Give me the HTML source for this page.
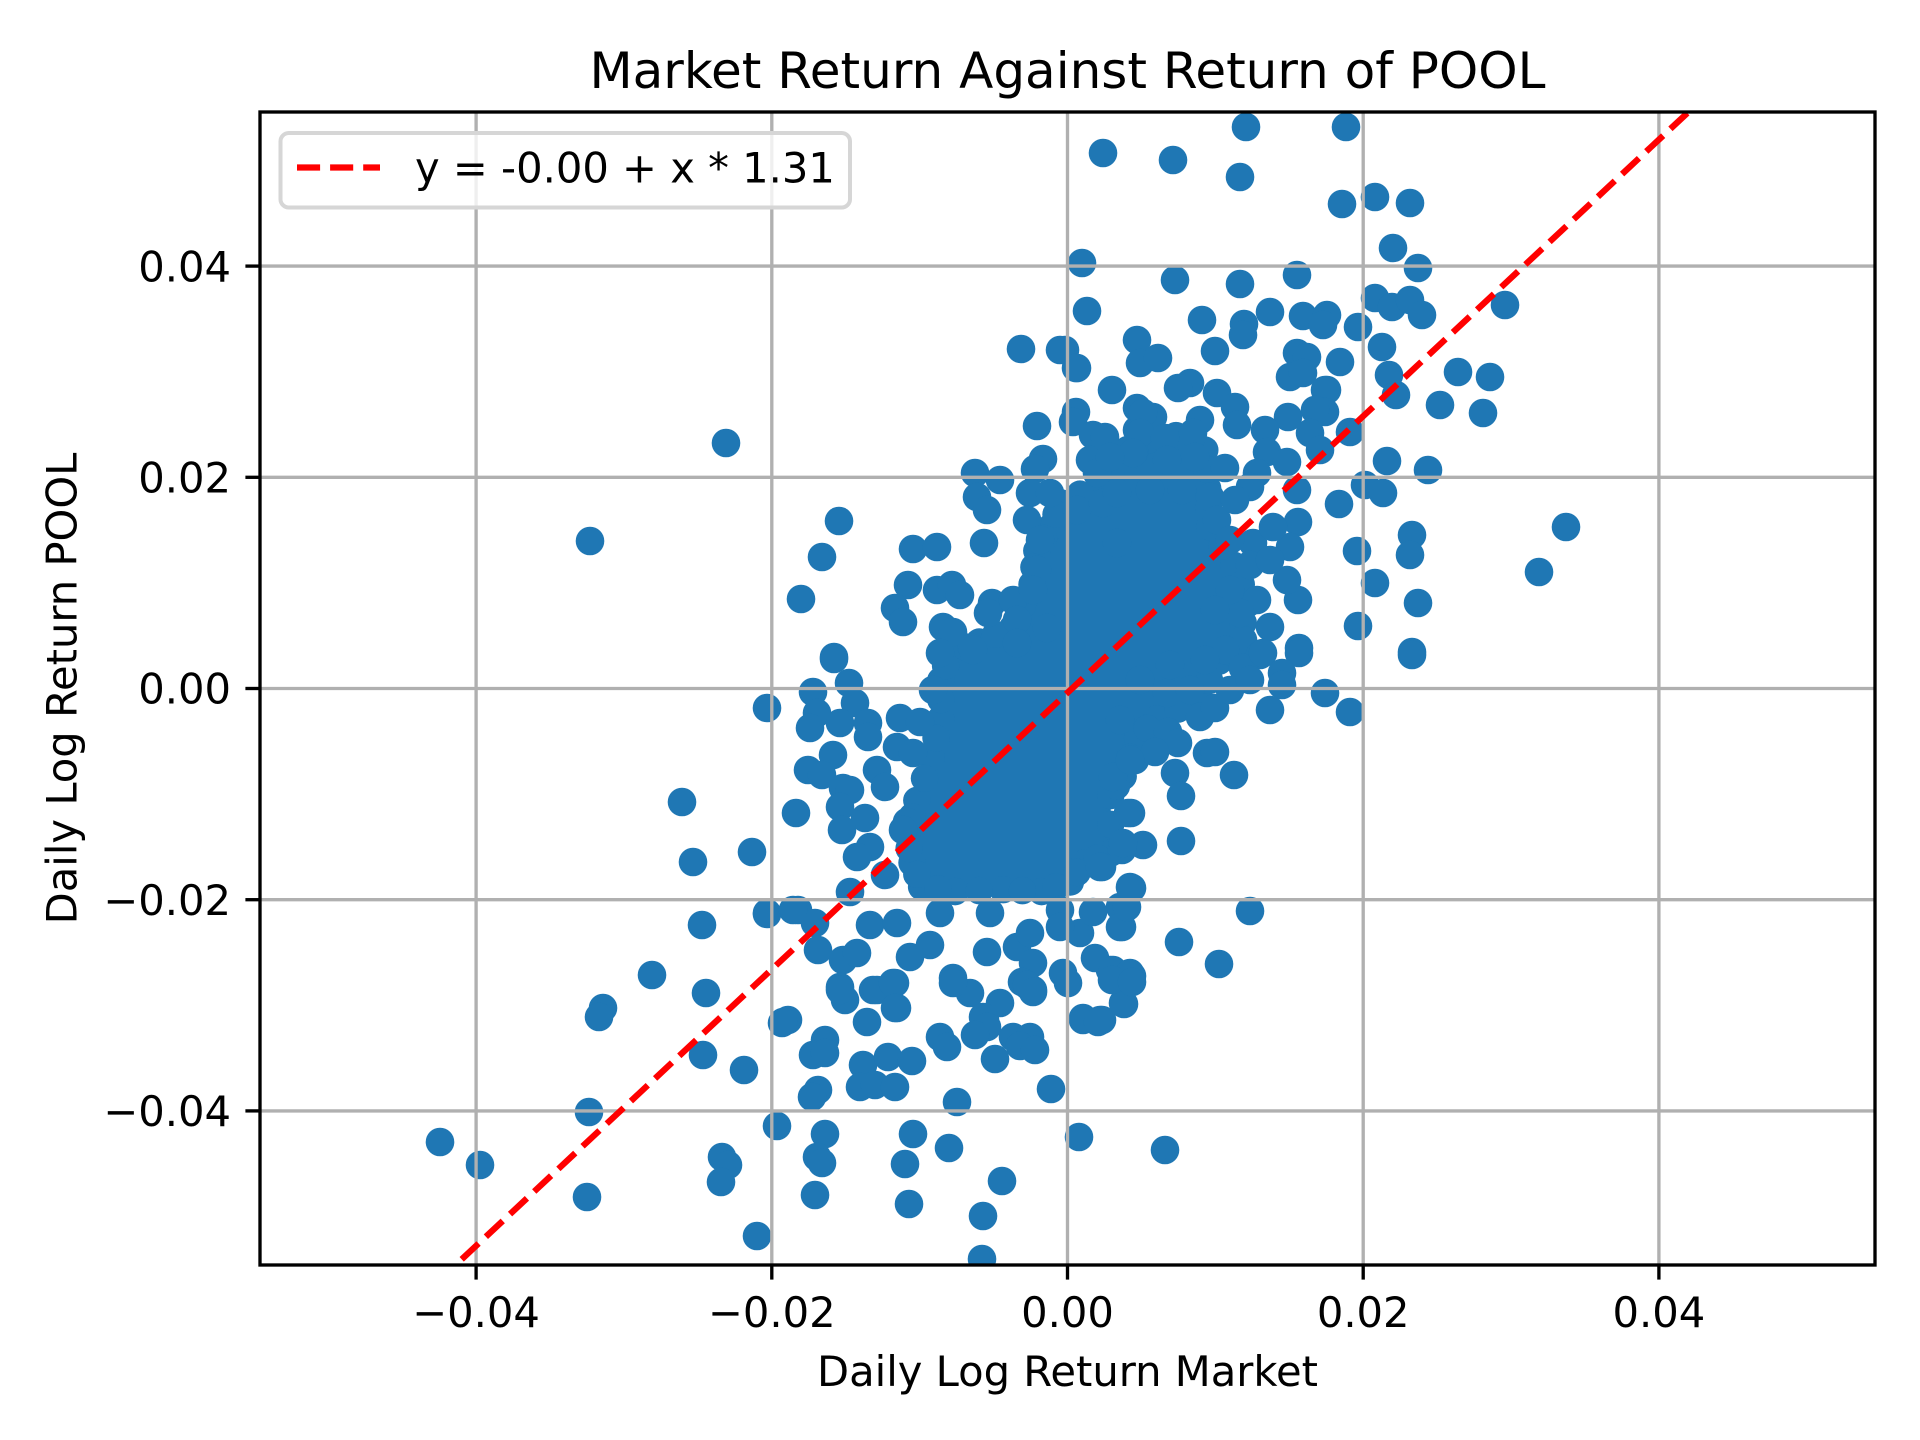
<!DOCTYPE html>
<html><head><meta charset="utf-8"><style>
html,body{margin:0;padding:0;background:#fff;}
svg{display:block;}
text{font-family:"DejaVu Sans","Liberation Sans",sans-serif;fill:#000;}
</style></head><body>
<svg width="1920" height="1440" viewBox="0 0 1920 1440" xmlns="http://www.w3.org/2000/svg">
<defs><clipPath id="ax"><rect x="260" y="112" width="1615" height="1153"/></clipPath></defs>
<rect width="1920" height="1440" fill="#fff"/>
<g clip-path="url(#ax)" fill="#1f77b4">
<g transform="translate(1080,690) scale(0.96) translate(-1080,-690)">
<polygon points="1060,495 1100,478 1125,455 1150,430 1180,425 1210,440 1213,480 1215,520 1240,560 1255,600 1245,640 1225,660 1205,700 1160,720 1140,740 1125,780 1112,800 1112,860 1085,870 1070,890 1040,900 1000,898 950,900 915,895 905,870 900,840 910,805 925,760 935,720 935,680 945,650 975,640 1010,625 1030,580 1035,545 1050,520"/>
<circle cx="1060" cy="495" r="14.3"/><circle cx="1100" cy="478" r="14.3"/><circle cx="1125" cy="455" r="14.3"/><circle cx="1150" cy="430" r="14.3"/><circle cx="1180" cy="425" r="14.3"/><circle cx="1210" cy="440" r="14.3"/><circle cx="1213" cy="480" r="14.3"/><circle cx="1215" cy="520" r="14.3"/><circle cx="1240" cy="560" r="14.3"/><circle cx="1255" cy="600" r="14.3"/><circle cx="1245" cy="640" r="14.3"/><circle cx="1225" cy="660" r="14.3"/><circle cx="1205" cy="700" r="14.3"/><circle cx="1160" cy="720" r="14.3"/><circle cx="1140" cy="740" r="14.3"/><circle cx="1125" cy="780" r="14.3"/><circle cx="1112" cy="800" r="14.3"/><circle cx="1112" cy="860" r="14.3"/><circle cx="1085" cy="870" r="14.3"/><circle cx="1070" cy="890" r="14.3"/><circle cx="1040" cy="900" r="14.3"/><circle cx="1000" cy="898" r="14.3"/><circle cx="950" cy="900" r="14.3"/><circle cx="915" cy="895" r="14.3"/><circle cx="905" cy="870" r="14.3"/><circle cx="900" cy="840" r="14.3"/><circle cx="910" cy="805" r="14.3"/><circle cx="925" cy="760" r="14.3"/><circle cx="935" cy="720" r="14.3"/><circle cx="935" cy="680" r="14.3"/><circle cx="945" cy="650" r="14.3"/><circle cx="975" cy="640" r="14.3"/><circle cx="1010" cy="625" r="14.3"/><circle cx="1030" cy="580" r="14.3"/><circle cx="1035" cy="545" r="14.3"/><circle cx="1050" cy="520" r="14.3"/>
<circle cx="1080" cy="486" r="14.3"/><circle cx="1112" cy="466" r="14.3"/><circle cx="1137" cy="442" r="14.3"/><circle cx="1165" cy="427" r="14.3"/><circle cx="1195" cy="432" r="14.3"/><circle cx="1212" cy="460" r="14.3"/><circle cx="1214" cy="500" r="14.3"/><circle cx="1228" cy="540" r="14.3"/><circle cx="1248" cy="580" r="14.3"/><circle cx="1250" cy="620" r="14.3"/><circle cx="1235" cy="650" r="14.3"/><circle cx="1215" cy="680" r="14.3"/><circle cx="1182" cy="710" r="14.3"/><circle cx="1150" cy="730" r="14.3"/><circle cx="1132" cy="760" r="14.3"/><circle cx="1118" cy="790" r="14.3"/><circle cx="1112" cy="830" r="14.3"/><circle cx="1098" cy="865" r="14.3"/><circle cx="1077" cy="880" r="14.3"/><circle cx="1055" cy="895" r="14.3"/><circle cx="1020" cy="899" r="14.3"/><circle cx="975" cy="899" r="14.3"/><circle cx="932" cy="897" r="14.3"/><circle cx="910" cy="882" r="14.3"/><circle cx="902" cy="855" r="14.3"/><circle cx="905" cy="822" r="14.3"/><circle cx="918" cy="782" r="14.3"/><circle cx="930" cy="740" r="14.3"/><circle cx="935" cy="700" r="14.3"/><circle cx="940" cy="665" r="14.3"/><circle cx="960" cy="645" r="14.3"/><circle cx="992" cy="632" r="14.3"/><circle cx="1020" cy="602" r="14.3"/><circle cx="1032" cy="562" r="14.3"/><circle cx="1042" cy="532" r="14.3"/><circle cx="1055" cy="507" r="14.3"/>
</g>
<g>
<circle cx="1103" cy="153" r="14.3"/><circle cx="1173" cy="160" r="14.3"/><circle cx="1246" cy="127" r="14.3"/><circle cx="1240" cy="177" r="14.3"/><circle cx="1346" cy="127" r="14.3"/><circle cx="1342" cy="204" r="14.3"/><circle cx="1375" cy="197" r="14.3"/><circle cx="1410" cy="203" r="14.3"/><circle cx="1393" cy="248" r="14.3"/><circle cx="1418" cy="268" r="14.3"/><circle cx="1082" cy="263" r="14.3"/>
<circle cx="1175" cy="280" r="14.3"/><circle cx="1240" cy="284" r="14.3"/><circle cx="1297" cy="275" r="14.3"/><circle cx="1202" cy="320" r="14.3"/><circle cx="1244" cy="324" r="14.3"/><circle cx="1243" cy="335" r="14.3"/><circle cx="1270" cy="312" r="14.3"/><circle cx="1303" cy="316" r="14.3"/><circle cx="1327" cy="315" r="14.3"/><circle cx="1323" cy="325" r="14.3"/><circle cx="1358" cy="327" r="14.3"/><circle cx="1375" cy="298" r="14.3"/><circle cx="1392" cy="307" r="14.3"/><circle cx="1410" cy="300" r="14.3"/><circle cx="1422" cy="315" r="14.3"/><circle cx="1382" cy="347" r="14.3"/><circle cx="1389" cy="375" r="14.3"/><circle cx="1458" cy="372" r="14.3"/><circle cx="1490" cy="377" r="14.3"/><circle cx="1440" cy="405" r="14.3"/><circle cx="1483" cy="413" r="14.3"/><circle cx="1505" cy="305" r="14.3"/><circle cx="1087" cy="311" r="14.3"/><circle cx="1065" cy="350" r="14.3"/><circle cx="1077" cy="368" r="14.3"/><circle cx="1137" cy="340" r="14.3"/><circle cx="1140" cy="363" r="14.3"/><circle cx="1158" cy="358" r="14.3"/><circle cx="1215" cy="351" r="14.3"/><circle cx="1112" cy="390" r="14.3"/><circle cx="1190" cy="383" r="14.3"/><circle cx="1178" cy="388" r="14.3"/><circle cx="1217" cy="393" r="14.3"/><circle cx="1297" cy="353" r="14.3"/><circle cx="1307" cy="357" r="14.3"/><circle cx="1290" cy="377" r="14.3"/><circle cx="1303" cy="373" r="14.3"/><circle cx="1327" cy="390" r="14.3"/><circle cx="1340" cy="362" r="14.3"/><circle cx="1396" cy="395" r="14.3"/>
<circle cx="1021" cy="349" r="14.3"/><circle cx="1060" cy="350" r="14.3"/><circle cx="1076" cy="368" r="14.3"/><circle cx="1037" cy="426" r="14.3"/><circle cx="1076" cy="412" r="14.3"/><circle cx="1073" cy="422" r="14.3"/><circle cx="1093" cy="435" r="14.3"/><circle cx="1090" cy="460" r="14.3"/><circle cx="1097" cy="473" r="14.3"/><circle cx="1137" cy="408" r="14.3"/><circle cx="1137" cy="430" r="14.3"/><circle cx="1128" cy="450" r="14.3"/><circle cx="1043" cy="459" r="14.3"/><circle cx="1035" cy="469" r="14.3"/><circle cx="975" cy="473" r="14.3"/><circle cx="1000" cy="480" r="14.3"/><circle cx="977" cy="497" r="14.3"/><circle cx="987" cy="510" r="14.3"/><circle cx="1030" cy="493" r="14.3"/><circle cx="1050" cy="493" r="14.3"/><circle cx="1027" cy="520" r="14.3"/><circle cx="1040" cy="540" r="14.3"/><circle cx="1077" cy="510" r="14.3"/><circle cx="1103" cy="503" r="14.3"/><circle cx="1117" cy="543" r="14.3"/><circle cx="839" cy="521" r="14.3"/><circle cx="822" cy="557" r="14.3"/><circle cx="801" cy="599" r="14.3"/><circle cx="726" cy="443" r="14.3"/><circle cx="590" cy="541" r="14.3"/><circle cx="913" cy="549" r="14.3"/><circle cx="937" cy="547" r="14.3"/><circle cx="984" cy="543" r="14.3"/><circle cx="908" cy="585" r="14.3"/><circle cx="895" cy="608" r="14.3"/><circle cx="903" cy="622" r="14.3"/><circle cx="937" cy="590" r="14.3"/><circle cx="952" cy="585" r="14.3"/><circle cx="960" cy="595" r="14.3"/><circle cx="992" cy="603" r="14.3"/><circle cx="988" cy="613" r="14.3"/><circle cx="943" cy="627" r="14.3"/><circle cx="953" cy="632" r="14.3"/><circle cx="834" cy="657" r="14.3"/><circle cx="940" cy="653" r="14.3"/><circle cx="972" cy="648" r="14.3"/><circle cx="1013" cy="600" r="14.3"/><circle cx="1017" cy="620" r="14.3"/><circle cx="1047" cy="628" r="14.3"/><circle cx="1017" cy="643" r="14.3"/><circle cx="1037" cy="570" r="14.3"/><circle cx="1033" cy="590" r="14.3"/>
<circle cx="1235" cy="407" r="14.3"/><circle cx="1237" cy="425" r="14.3"/><circle cx="1325" cy="390" r="14.3"/><circle cx="1325" cy="412" r="14.3"/><circle cx="1315" cy="410" r="14.3"/><circle cx="1288" cy="417" r="14.3"/><circle cx="1265" cy="430" r="14.3"/><circle cx="1310" cy="433" r="14.3"/><circle cx="1320" cy="450" r="14.3"/><circle cx="1350" cy="432" r="14.3"/><circle cx="1267" cy="452" r="14.3"/><circle cx="1287" cy="462" r="14.3"/><circle cx="1225" cy="468" r="14.3"/><circle cx="1257" cy="473" r="14.3"/><circle cx="1387" cy="461" r="14.3"/><circle cx="1428" cy="470" r="14.3"/><circle cx="1365" cy="485" r="14.3"/><circle cx="1383" cy="493" r="14.3"/><circle cx="1339" cy="504" r="14.3"/><circle cx="1412" cy="535" r="14.3"/><circle cx="1410" cy="555" r="14.3"/><circle cx="1357" cy="551" r="14.3"/><circle cx="1375" cy="583" r="14.3"/><circle cx="1418" cy="603" r="14.3"/><circle cx="1358" cy="626" r="14.3"/><circle cx="1412" cy="652" r="14.3"/><circle cx="1298" cy="600" r="14.3"/><circle cx="1299" cy="648" r="14.3"/><circle cx="1297" cy="490" r="14.3"/><circle cx="1298" cy="522" r="14.3"/><circle cx="1290" cy="547" r="14.3"/><circle cx="1250" cy="487" r="14.3"/><circle cx="1210" cy="497" r="14.3"/><circle cx="1182" cy="490" r="14.3"/><circle cx="1150" cy="490" r="14.3"/><circle cx="1153" cy="417" r="14.3"/><circle cx="1143" cy="413" r="14.3"/><circle cx="1140" cy="433" r="14.3"/><circle cx="1200" cy="420" r="14.3"/><circle cx="1193" cy="433" r="14.3"/><circle cx="1165" cy="438" r="14.3"/><circle cx="1195" cy="457" r="14.3"/><circle cx="1167" cy="460" r="14.3"/><circle cx="1133" cy="453" r="14.3"/><circle cx="1105" cy="437" r="14.3"/><circle cx="1110" cy="457" r="14.3"/><circle cx="1117" cy="493" r="14.3"/><circle cx="1217" cy="520" r="14.3"/><circle cx="1253" cy="543" r="14.3"/><circle cx="1273" cy="527" r="14.3"/><circle cx="1257" cy="600" r="14.3"/><circle cx="1270" cy="627" r="14.3"/><circle cx="1243" cy="640" r="14.3"/><circle cx="1287" cy="580" r="14.3"/><circle cx="1240" cy="613" r="14.3"/><circle cx="1566" cy="527" r="14.3"/><circle cx="1539" cy="572" r="14.3"/><circle cx="1230" cy="540" r="14.3"/><circle cx="1250" cy="565" r="14.3"/><circle cx="1230" cy="590" r="14.3"/><circle cx="1270" cy="560" r="14.3"/><circle cx="1235" cy="500" r="14.3"/><circle cx="1215" cy="610" r="14.3"/><circle cx="1225" cy="650" r="14.3"/><circle cx="1260" cy="655" r="14.3"/>
<circle cx="1299" cy="653" r="14.3"/><circle cx="1412" cy="655" r="14.3"/><circle cx="1243" cy="668" r="14.3"/><circle cx="1263" cy="653" r="14.3"/><circle cx="1282" cy="673" r="14.3"/><circle cx="1282" cy="685" r="14.3"/><circle cx="1325" cy="693" r="14.3"/><circle cx="1350" cy="712" r="14.3"/><circle cx="1270" cy="710" r="14.3"/><circle cx="1200" cy="717" r="14.3"/><circle cx="1215" cy="708" r="14.3"/><circle cx="1168" cy="732" r="14.3"/><circle cx="1178" cy="743" r="14.3"/><circle cx="1207" cy="753" r="14.3"/><circle cx="1215" cy="752" r="14.3"/><circle cx="1234" cy="775" r="14.3"/><circle cx="1135" cy="760" r="14.3"/><circle cx="1155" cy="752" r="14.3"/><circle cx="1175" cy="773" r="14.3"/><circle cx="1181" cy="796" r="14.3"/><circle cx="1113" cy="777" r="14.3"/><circle cx="1131" cy="813" r="14.3"/><circle cx="1181" cy="841" r="14.3"/><circle cx="1143" cy="845" r="14.3"/><circle cx="1122" cy="850" r="14.3"/><circle cx="1102" cy="867" r="14.3"/><circle cx="1132" cy="888" r="14.3"/><circle cx="1120" cy="907" r="14.3"/><circle cx="1122" cy="927" r="14.3"/><circle cx="1250" cy="911" r="14.3"/><circle cx="1179" cy="942" r="14.3"/><circle cx="1219" cy="964" r="14.3"/><circle cx="1132" cy="976" r="14.3"/><circle cx="1110" cy="970" r="14.3"/><circle cx="1124" cy="1004" r="14.3"/><circle cx="1102" cy="1020" r="14.3"/><circle cx="1167" cy="693" r="14.3"/><circle cx="1140" cy="680" r="14.3"/><circle cx="1190" cy="690" r="14.3"/><circle cx="1120" cy="720" r="14.3"/><circle cx="1230" cy="690" r="14.3"/><circle cx="1250" cy="680" r="14.3"/><circle cx="1205" cy="660" r="14.3"/><circle cx="1170" cy="665" r="14.3"/>
<circle cx="834" cy="659" r="14.3"/><circle cx="767" cy="708" r="14.3"/><circle cx="813" cy="692" r="14.3"/><circle cx="849" cy="683" r="14.3"/><circle cx="855" cy="703" r="14.3"/><circle cx="817" cy="713" r="14.3"/><circle cx="810" cy="728" r="14.3"/><circle cx="840" cy="723" r="14.3"/><circle cx="868" cy="723" r="14.3"/><circle cx="868" cy="737" r="14.3"/><circle cx="900" cy="718" r="14.3"/><circle cx="920" cy="722" r="14.3"/><circle cx="833" cy="755" r="14.3"/><circle cx="808" cy="770" r="14.3"/><circle cx="822" cy="775" r="14.3"/><circle cx="843" cy="788" r="14.3"/><circle cx="850" cy="790" r="14.3"/><circle cx="840" cy="807" r="14.3"/><circle cx="865" cy="818" r="14.3"/><circle cx="842" cy="830" r="14.3"/><circle cx="796" cy="813" r="14.3"/><circle cx="752" cy="852" r="14.3"/><circle cx="877" cy="770" r="14.3"/><circle cx="885" cy="787" r="14.3"/><circle cx="897" cy="747" r="14.3"/><circle cx="913" cy="753" r="14.3"/><circle cx="907" cy="822" r="14.3"/><circle cx="903" cy="830" r="14.3"/><circle cx="870" cy="847" r="14.3"/><circle cx="857" cy="857" r="14.3"/><circle cx="885" cy="875" r="14.3"/><circle cx="850" cy="892" r="14.3"/><circle cx="798" cy="910" r="14.3"/><circle cx="767" cy="913" r="14.3"/><circle cx="815" cy="923" r="14.3"/><circle cx="870" cy="925" r="14.3"/><circle cx="897" cy="923" r="14.3"/><circle cx="818" cy="950" r="14.3"/><circle cx="843" cy="960" r="14.3"/><circle cx="857" cy="953" r="14.3"/><circle cx="840" cy="987" r="14.3"/><circle cx="845" cy="1000" r="14.3"/><circle cx="873" cy="990" r="14.3"/><circle cx="895" cy="983" r="14.3"/><circle cx="897" cy="1008" r="14.3"/><circle cx="910" cy="957" r="14.3"/><circle cx="930" cy="945" r="14.3"/><circle cx="782" cy="1023" r="14.3"/><circle cx="788" cy="1020" r="14.3"/><circle cx="867" cy="1022" r="14.3"/><circle cx="953" cy="978" r="14.3"/><circle cx="970" cy="993" r="14.3"/><circle cx="1000" cy="1003" r="14.3"/><circle cx="985" cy="1020" r="14.3"/><circle cx="987" cy="952" r="14.3"/><circle cx="1017" cy="947" r="14.3"/><circle cx="1030" cy="933" r="14.3"/><circle cx="1033" cy="963" r="14.3"/><circle cx="1022" cy="982" r="14.3"/><circle cx="1033" cy="990" r="14.3"/><circle cx="1063" cy="973" r="14.3"/><circle cx="1068" cy="983" r="14.3"/><circle cx="1095" cy="958" r="14.3"/><circle cx="1113" cy="970" r="14.3"/><circle cx="1130" cy="973" r="14.3"/><circle cx="1123" cy="1003" r="14.3"/><circle cx="1083" cy="1020" r="14.3"/><circle cx="1100" cy="1020" r="14.3"/><circle cx="1080" cy="933" r="14.3"/><circle cx="1093" cy="912" r="14.3"/><circle cx="1120" cy="927" r="14.3"/><circle cx="1127" cy="907" r="14.3"/><circle cx="1130" cy="887" r="14.3"/><circle cx="1100" cy="867" r="14.3"/><circle cx="1123" cy="843" r="14.3"/><circle cx="1128" cy="813" r="14.3"/><circle cx="1130" cy="760" r="14.3"/><circle cx="1060" cy="910" r="14.3"/><circle cx="1060" cy="927" r="14.3"/><circle cx="990" cy="913" r="14.3"/><circle cx="940" cy="913" r="14.3"/><circle cx="940" cy="1037" r="14.3"/><circle cx="1013" cy="1037" r="14.3"/><circle cx="1030" cy="1037" r="14.3"/><circle cx="825" cy="1040" r="14.3"/><circle cx="933" cy="690" r="14.3"/><circle cx="973" cy="650" r="14.3"/>
<circle cx="682" cy="802" r="14.3"/><circle cx="693" cy="862" r="14.3"/><circle cx="702" cy="925" r="14.3"/><circle cx="652" cy="975" r="14.3"/><circle cx="706" cy="993" r="14.3"/><circle cx="603" cy="1008" r="14.3"/><circle cx="599" cy="1017" r="14.3"/><circle cx="767" cy="914" r="14.3"/><circle cx="793" cy="910" r="14.3"/><circle cx="783" cy="1022" r="14.3"/><circle cx="703" cy="1055" r="14.3"/><circle cx="744" cy="1070" r="14.3"/><circle cx="589" cy="1112" r="14.3"/><circle cx="440" cy="1142" r="14.3"/><circle cx="480" cy="1165" r="14.3"/><circle cx="587" cy="1197" r="14.3"/><circle cx="722" cy="1157" r="14.3"/><circle cx="728" cy="1165" r="14.3"/><circle cx="721" cy="1182" r="14.3"/><circle cx="777" cy="1126" r="14.3"/><circle cx="757" cy="1236" r="14.3"/>
<circle cx="840" cy="990" r="14.3"/><circle cx="877" cy="990" r="14.3"/><circle cx="893" cy="983" r="14.3"/><circle cx="895" cy="1008" r="14.3"/><circle cx="953" cy="983" r="14.3"/><circle cx="983" cy="1017" r="14.3"/><circle cx="987" cy="1027" r="14.3"/><circle cx="975" cy="1035" r="14.3"/><circle cx="1027" cy="985" r="14.3"/><circle cx="1033" cy="992" r="14.3"/><circle cx="1112" cy="980" r="14.3"/><circle cx="1132" cy="982" r="14.3"/><circle cx="1083" cy="1018" r="14.3"/><circle cx="1098" cy="1022" r="14.3"/><circle cx="813" cy="1055" r="14.3"/><circle cx="825" cy="1053" r="14.3"/><circle cx="818" cy="1090" r="14.3"/><circle cx="812" cy="1097" r="14.3"/><circle cx="863" cy="1065" r="14.3"/><circle cx="888" cy="1057" r="14.3"/><circle cx="912" cy="1061" r="14.3"/><circle cx="860" cy="1087" r="14.3"/><circle cx="875" cy="1085" r="14.3"/><circle cx="895" cy="1087" r="14.3"/><circle cx="947" cy="1047" r="14.3"/><circle cx="995" cy="1059" r="14.3"/><circle cx="1020" cy="1046" r="14.3"/><circle cx="1035" cy="1050" r="14.3"/><circle cx="1051" cy="1089" r="14.3"/><circle cx="957" cy="1102" r="14.3"/><circle cx="825" cy="1134" r="14.3"/><circle cx="817" cy="1157" r="14.3"/><circle cx="822" cy="1163" r="14.3"/><circle cx="815" cy="1195" r="14.3"/><circle cx="913" cy="1134" r="14.3"/><circle cx="949" cy="1148" r="14.3"/><circle cx="905" cy="1164" r="14.3"/><circle cx="909" cy="1204" r="14.3"/><circle cx="1002" cy="1181" r="14.3"/><circle cx="983" cy="1216" r="14.3"/><circle cx="982" cy="1259" r="14.3"/><circle cx="1079" cy="1137" r="14.3"/><circle cx="1165" cy="1150" r="14.3"/>
</g>
</g>
<!-- grid -->
<g stroke="#b0b0b0" stroke-width="3.33" clip-path="url(#ax)">
<line x1="476.1" y1="112" x2="476.1" y2="1265"/>
<line x1="771.8" y1="112" x2="771.8" y2="1265"/>
<line x1="1067.5" y1="112" x2="1067.5" y2="1265"/>
<line x1="1363.2" y1="112" x2="1363.2" y2="1265"/>
<line x1="1658.9" y1="112" x2="1658.9" y2="1265"/>
<line x1="260" y1="266.1" x2="1875" y2="266.1"/>
<line x1="260" y1="477.3" x2="1875" y2="477.3"/>
<line x1="260" y1="688.5" x2="1875" y2="688.5"/>
<line x1="260" y1="899.7" x2="1875" y2="899.7"/>
<line x1="260" y1="1110.9" x2="1875" y2="1110.9"/>
</g>
<!-- regression line -->
<line x1="461.7" y1="1259.3" x2="1700" y2="101.2" stroke="#ff0000" stroke-width="6.25" stroke-dasharray="23.1 10" clip-path="url(#ax)"/>
<!-- spines -->
<rect x="260" y="112" width="1615" height="1153" fill="none" stroke="#000" stroke-width="3.33"/>
<!-- ticks -->
<g stroke="#000" stroke-width="3.33">
<line x1="476.1" y1="1265" x2="476.1" y2="1279.6"/>
<line x1="771.8" y1="1265" x2="771.8" y2="1279.6"/>
<line x1="1067.5" y1="1265" x2="1067.5" y2="1279.6"/>
<line x1="1363.2" y1="1265" x2="1363.2" y2="1279.6"/>
<line x1="1658.9" y1="1265" x2="1658.9" y2="1279.6"/>
<line x1="245.4" y1="266.1" x2="260" y2="266.1"/>
<line x1="245.4" y1="477.3" x2="260" y2="477.3"/>
<line x1="245.4" y1="688.5" x2="260" y2="688.5"/>
<line x1="245.4" y1="899.7" x2="260" y2="899.7"/>
<line x1="245.4" y1="1110.9" x2="260" y2="1110.9"/>
</g>
<g font-size="41.67" text-anchor="middle">
<text x="476.1" y="1327">−0.04</text>
<text x="771.8" y="1327">−0.02</text>
<text x="1067.5" y="1327">0.00</text>
<text x="1363.2" y="1327">0.02</text>
<text x="1658.9" y="1327">0.04</text>
</g>
<g font-size="41.67" text-anchor="end">
<text x="231" y="281.3">0.04</text>
<text x="231" y="492.5">0.02</text>
<text x="231" y="703.7">0.00</text>
<text x="231" y="914.9">−0.02</text>
<text x="231" y="1126.1">−0.04</text>
</g>
<text x="1067.5" y="1386" font-size="41.67" text-anchor="middle">Daily Log Return Market</text>
<text transform="translate(76.5,688.5) rotate(-90)" font-size="41.67" text-anchor="middle">Daily Log Return POOL</text>
<text x="1067.5" y="88" font-size="50" text-anchor="middle">Market Return Against Return of POOL</text>
<!-- legend -->
<rect x="280.5" y="133" width="569.5" height="74.5" rx="8.3" ry="8.3" fill="#fff" fill-opacity="0.8" stroke="#d6d6d6" stroke-width="4"/>
<line x1="297" y1="167.5" x2="380" y2="167.5" stroke="#ff0000" stroke-width="6.25" stroke-dasharray="23.1 10"/>
<text x="415" y="182.7" font-size="41.67">y = -0.00 + x * 1.31</text>
</svg>
</body></html>
